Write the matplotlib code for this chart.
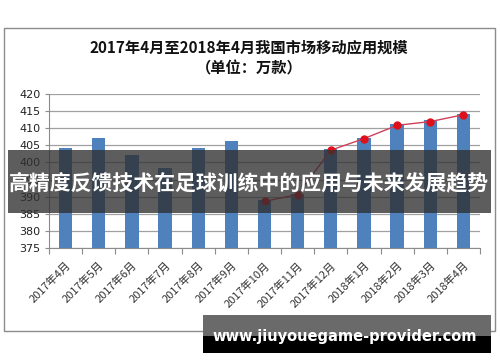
import matplotlib
matplotlib.use("Agg")
import matplotlib.pyplot as plt
from matplotlib.patches import Rectangle
import numpy as np

plt.rcParams['font.family'] = ['Noto Sans CJK SC', 'DejaVu Sans']

months = ["2017年4月", "2017年5月", "2017年6月", "2017年7月", "2017年8月", "2017年9月",
          "2017年10月", "2017年11月", "2017年12月", "2018年1月", "2018年2月", "2018年3月", "2018年4月"]
bar_values = [404.2, 407.2, 402.2, 398.3, 404.2, 406.4, 389.0, 390.8, 404.1, 407.3, 411.3, 412.6, 414.2]
line_months = months[6:]
line_values = [388.6, 390.6, 403.6, 407.0, 410.9, 412.0, 414.0]
yticks = [375, 380, 385, 390, 395, 400, 405, 410, 415, 420]
title = "2017年4月至2018年4月我国市场移动应用规模\n（单位：万款）"
banner = "高精度反馈技术在足球训练中的应用与未来发展趋势"
watermark = "www.jiuyouegame-provider.com"

W, H = 500, 362
fig = plt.figure(figsize=(W / 100, H / 100), dpi=100)

def fx(x):
    return x / W

def fy(y):
    return 1 - y / H

# outer chart frame
fig.patches.append(Rectangle((fx(4), fy(331)), fx(491), (331 - 28) / H, transform=fig.transFigure,
                             fill=False, edgecolor="#8c8c8c", linewidth=1.0, zorder=0))

ax = fig.add_axes([fx(49), fy(247.7), fx(431), (247.7 - 94.3) / H])
x = np.arange(len(months))
ax.bar(x, bar_values, width=0.4, color="#4f81bd", zorder=2, bottom=0)
lx = [months.index(m) for m in line_months]
ax.plot(lx, line_values, color="#d0405a", linewidth=1.0, marker="o", markersize=5,
        markerfacecolor="#e0101a", markeredgecolor="#e0101a", zorder=3)

ax.set_ylim(375, 420)
ax.set_xlim(-0.5, len(months) - 0.5)
ax.set_yticks(yticks)
ax.set_yticklabels([str(v) for v in yticks], fontsize=8, color="#222222", family="DejaVu Sans")
ax.yaxis.grid(True, color="#a0a0a0", linewidth=0.9, zorder=0)
ax.set_axisbelow(True)
ax.tick_params(axis="y", length=3, color="#8c8c8c", pad=3)

ax.set_xticks(np.arange(-0.5, len(months), 1.0))
ax.set_xticklabels([])
ax.set_xticks(x, minor=True)
ax.set_xticklabels(months, minor=True, rotation=45, ha="right", rotation_mode="anchor",
                   fontsize=8, color="#333333")
ax.tick_params(axis="x", which="major", length=4, color="#8c8c8c")
ax.tick_params(axis="x", which="minor", length=0, pad=9)

for s in ["top", "right"]:
    ax.spines[s].set_visible(False)
for s in ["left", "bottom"]:
    ax.spines[s].set_color("#8c8c8c")

fig.text(fx(249), fy(58), title, ha="center", va="center", fontsize=11, fontweight="bold",
         color="#111111", linespacing=1.35)

# banner overlay
fig.patches.append(Rectangle((fx(8), fy(213)), fx(483), (213 - 150) / H, transform=fig.transFigure,
                             facecolor="#303030", alpha=0.78, edgecolor="none", zorder=5))
fig.text(fx(249), fy(183), banner, ha="center", va="center", fontsize=15, fontweight="bold",
         color="white", zorder=6)

# watermark box
fig.patches.append(Rectangle((fx(203), fy(336)), fx(288), (336 - 315) / H, transform=fig.transFigure,
                             facecolor="#6a6a6a", edgecolor="none", zorder=5))
fig.patches.append(Rectangle((fx(203), fy(352.7)), fx(288), (352.7 - 336) / H, transform=fig.transFigure,
                             facecolor="#000000", edgecolor="none", zorder=5))
fig.text(fx(345), fy(336), watermark, ha="center", va="center", fontsize=10.5, fontweight="bold",
         color="white", family="DejaVu Sans", zorder=6)

fig.savefig("out.png", dpi=100)
